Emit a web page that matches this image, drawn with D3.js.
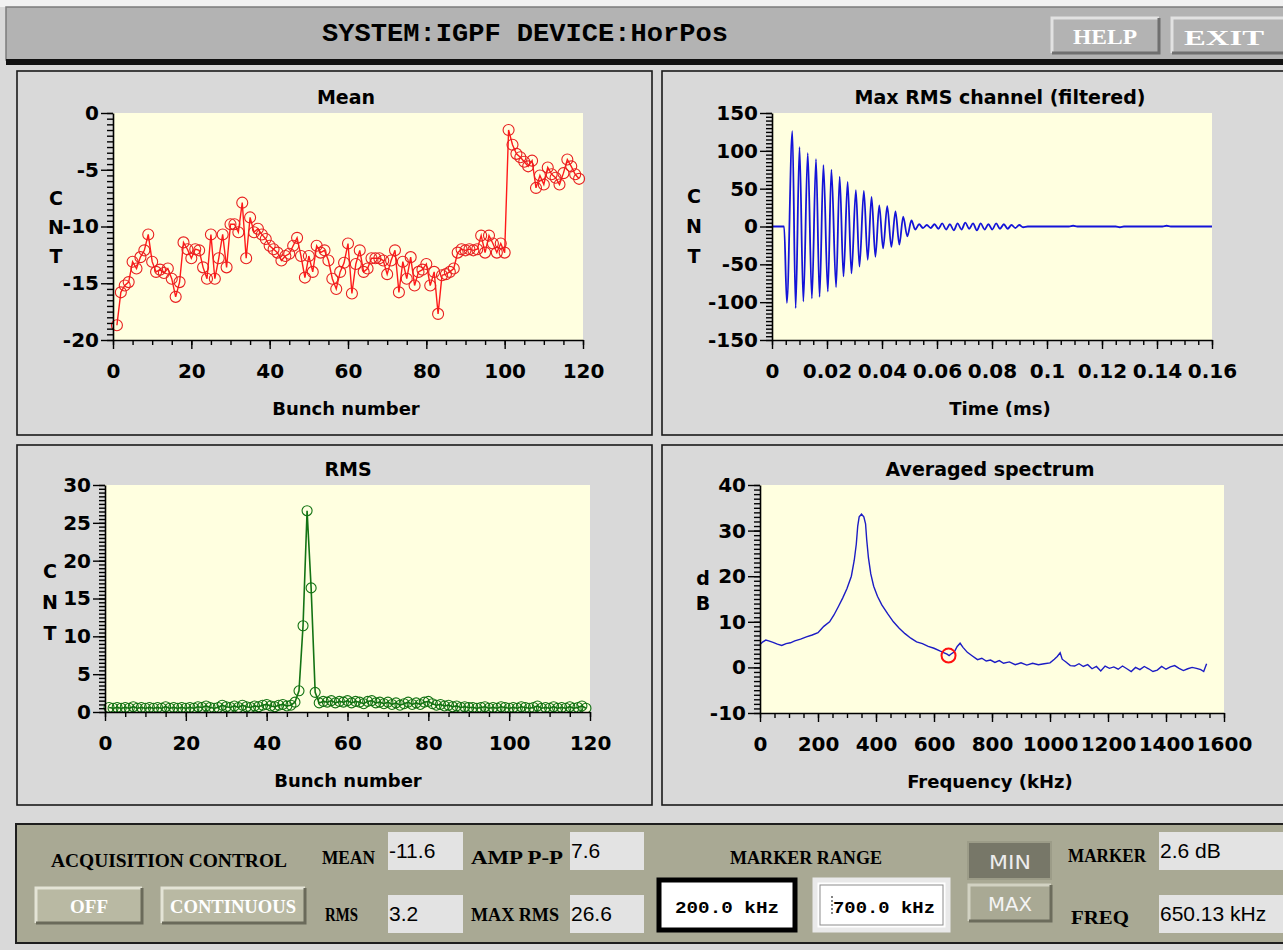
<!DOCTYPE html>
<html>
<head>
<meta charset="utf-8">
<script src="https://cdnjs.cloudflare.com/ajax/libs/d3/7.8.5/d3.min.js"></script>
<style>
  body { margin: 0; background: #d9d9d9; overflow: hidden; }
  svg text { font-family: "DejaVu Sans", sans-serif; }
  .axis path.domain { stroke: #000; stroke-width: 1.6; }
  .axis line { stroke: #000; stroke-width: 1.4; }
  .axis text { font-family: "DejaVu Sans", sans-serif; font-weight: bold; font-size: 20px; fill: #000; }
  .ttl { font-weight: bold; font-size: 19px; fill: #000; }
  .lbl { font-family: "Liberation Serif", serif; font-weight: bold; fill: #000; }
  .val { font-family: "Liberation Sans", sans-serif; fill: #000; }
</style>
</head>
<body>
<svg id="screen" width="1283" height="950"></svg>
<script>
(function(){

    // ---- values ----
    var bunches = d3.range(1, 120);

    var meanValues = [-18.7,-15.8,-15.2,-14.9,-13.1,-13.7,-12.7,-12.1,-10.7,-13.1,
        -14.0,-13.8,-14.1,-13.7,-14.6,-16.2,-14.9,-11.4,-12.0,-12.8,
        -12.0,-12.1,-13.6,-14.6,-10.7,-14.6,-12.8,-10.7,-13.6,-9.8,
        -9.8,-10.5,-7.9,-12.8,-9.2,-10.5,-10.2,-10.7,-11.1,-11.7,
        -12.0,-12.3,-13.0,-12.6,-12.4,-11.7,-11.0,-12.6,-14.5,-12.6,
        -14.0,-11.7,-12.3,-12.1,-13.0,-14.6,-15.5,-14.0,-13.2,-11.5,
        -15.9,-13.3,-12.1,-14.0,-13.7,-12.8,-12.8,-12.8,-13.0,-14.2,
        -13.0,-12.1,-15.8,-13.1,-14.6,-12.7,-15.2,-14.0,-13.8,-13.3,
        -15.2,-14.0,-17.7,-14.3,-14.2,-14.0,-13.7,-12.3,-12.0,-12.1,
        -12.0,-12.1,-12.0,-10.8,-12.3,-10.8,-11.5,-12.3,-11.5,-12.3,
        -1.5,-2.8,-3.6,-3.9,-4.3,-4.7,-4.2,-6.6,-5.5,-6.3,
        -4.8,-5.4,-5.7,-6.3,-5.3,-4.1,-4.7,-5.4,-5.8];

    var rmsValues = [0.6,0.5,0.6,0.5,0.6,0.5,0.7,0.5,0.6,0.5,0.6,0.5,0.6,0.5,0.7,0.5,0.6,0.5,0.6,0.5,
        0.6,0.5,0.7,0.6,0.8,0.6,0.5,0.6,0.9,0.7,0.6,0.8,0.6,0.9,0.7,0.6,0.8,0.7,0.9,1.0,
        0.8,0.7,0.9,1.0,0.8,0.9,1.3,2.8,11.4,26.6,16.4,2.6,
        1.2,1.4,1.3,1.5,1.2,1.4,1.3,1.5,1.2,1.4,1.3,1.1,1.4,1.5,1.2,1.3,1.1,1.3,
        1.0,1.2,0.9,1.1,1.3,1.0,1.2,1.0,1.3,1.4,1.1,0.9,1.0,0.8,0.9,0.7,0.8,0.6,0.7,0.6,
        0.6,0.5,0.6,0.7,0.5,0.6,0.5,0.7,0.6,0.5,0.6,0.5,0.7,0.6,0.5,0.6,0.8,0.5,0.6,0.5,
        0.7,0.5,0.6,0.5,0.7,0.5,0.6,0.8,0.5];

    // max rms channel: turning points of the filtered signal
    var chanTime = [0,0.0044,0.0054,0.0074,0.0086,0.0100,0.0114,0.0130,0.0145,0.0160,
        0.0173,0.0187,0.0203,0.0216,0.0233,0.0246,0.0260,0.0275,0.0289,0.0305,
        0.0318,0.0334,0.0348,0.0362,0.0376,0.0390,0.0404,0.0419,0.0434,0.0449,
        0.0463,0.0477,0.0492,0.0507,0.0521,0.0535,0.0549,0.0563,0.0577,0.0591,
        0.0605,0.0619,0.0633,0.0647,0.0661,0.0675,0.0689,0.0703,0.0717,0.0731,
        0.0745,0.0759,0.0773,0.0787,0.0801,0.0815,0.0829,0.0843,0.0857,0.0871,
        0.0885,0.0899,0.0913,0.0930,0.1080,0.1095,0.1110,0.1250,0.1265,0.1280,
        0.1420,0.1435,0.1450,0.1600];
    var chanValue = [0,0,-101,126,-108,105,-99,97,-95,89,
        -93,81,-86,75,-80,66,-66,59,-62,48,
        -53,47,-44,39,-40,28,-29,27,-27,20,
        -24,13,-13,8,-4,3,-2,2,-2,3,
        -3,4,-4,3,-5,4,-4,5,-3,4,
        -5,4,-4,3,-4,4,-3,3,-3,2,
        -2,2,-1,0,0,1,0,0,-1,0,
        0,1,0,0];

    var specFreq = [0,10,20,30,45,60,75,90,105,120,140,160,180,200,210,220,240,255,270,285,
        300,315,325,332,337,342,350,358,364,368,374,382,392,405,420,440,460,480,500,520,
        540,560,580,600,620,635,645,652,660,670,680,690,700,715,730,750,765,780,795,810,
        825,840,860,880,900,920,940,960,980,1000,1015,1025,1035,1042,1055,1070,1085,1100,1115,1130,
        1145,1160,1175,1190,1205,1220,1235,1250,1265,1280,1295,1310,1325,1340,1355,1370,1385,1400,1415,1430,
        1445,1460,1475,1490,1505,1520,1530,1540];
    var specDb = [5.0,5.6,6.0,5.8,5.5,5.1,4.8,5.2,5.4,5.8,6.2,6.7,7.1,7.6,8.3,9.0,10.0,11.5,13.3,15.2,
        17.3,20.0,23.5,27.0,31.0,33.0,33.6,33.0,31.5,28.0,24.0,20.5,17.8,15.6,13.7,11.8,10.0,8.6,7.4,6.4,
        5.6,5.2,4.6,4.2,3.6,3.2,2.9,2.6,3.0,3.4,4.6,5.3,4.4,3.3,2.6,1.7,2.0,1.4,1.6,1.1,
        1.5,0.9,1.2,0.6,1.0,0.5,0.9,0.6,0.8,1.0,1.8,2.4,3.2,1.8,1.2,0.4,0.3,0.8,0.2,0.6,
        -0.3,0.2,-0.8,0.3,-0.2,0.1,-0.4,0.3,-0.3,-0.9,0.0,-0.5,0.2,-0.3,-0.9,-0.6,0.2,-0.4,0.1,0.4,
        -0.2,-0.7,-0.3,0.0,-0.2,-0.5,-0.9,0.8];

    var markerFreq = 650.13;
    var markerDb = 2.6;

    var bunchTicks = [0, 20, 40, 60, 80, 100, 120];
    var meanTicks = [0, -5, -10, -15, -20];
    var rmsTicks = [0, 5, 10, 15, 20, 25, 30];
    var timeTicks = [0, 0.02, 0.04, 0.06, 0.08, 0.1, 0.12, 0.14, 0.16];
    var cntTicks = [150, 100, 50, 0, -50, -100, -150];
    var freqTicks = [0, 200, 400, 600, 800, 1000, 1200, 1400, 1600];
    var dbTicks = [40, 30, 20, 10, 0, -10];

    var svg = d3.select('#screen');
    var plain = function(d){ return String(d); };

    // ---- one plot with its axes ----
    var makePlot = function(cfg) {
        var x = d3.scaleLinear().domain(cfg.xDomain).range([cfg.left, cfg.right]);
        var y = d3.scaleLinear().domain(cfg.yDomain).range([cfg.bottom, cfg.top]);
        var g = svg.append('g');

        g.append('rect')
            .attr('x', cfg.left).attr('y', cfg.top)
            .attr('width', cfg.right - cfg.left).attr('height', cfg.bottom - cfg.top)
            .attr('fill', '#ffffe0');

        g.append('clipPath').attr('id', cfg.id + '-clip')
            .append('rect')
            .attr('x', cfg.left - 8).attr('y', cfg.top - 8)
            .attr('width', cfg.right - cfg.left + 16).attr('height', cfg.bottom - cfg.top + 8);

        var data = g.append('g').attr('clip-path', 'url(#' + cfg.id + '-clip)');

        // minor ticks first
        g.append('g').attr('class', 'axis')
            .attr('transform', 'translate(0,' + cfg.bottom + ')')
            .call(d3.axisBottom(x).tickValues(cfg.xMinor).tickSize(5).tickSizeOuter(0).tickFormat(''))
            .call(function(a){ a.select('.domain').remove(); });
        g.append('g').attr('class', 'axis')
            .attr('transform', 'translate(' + cfg.left + ',0)')
            .call(d3.axisLeft(y).tickValues(cfg.yMinor).tickSize(6).tickSizeOuter(0).tickFormat(''))
            .call(function(a){ a.select('.domain').remove(); });

        g.append('g').attr('class', 'axis')
            .attr('transform', 'translate(0,' + cfg.bottom + ')')
            .call(d3.axisBottom(x).tickValues(cfg.xTicks).tickSize(9).tickSizeOuter(0)
                .tickPadding(15).tickFormat(cfg.xFormat || plain));
        g.append('g').attr('class', 'axis')
            .attr('transform', 'translate(' + cfg.left + ',0)')
            .call(d3.axisLeft(y).tickValues(cfg.yTicks).tickSize(12).tickSizeOuter(0)
                .tickPadding(2).tickFormat(plain));

        g.append('text').attr('class', 'ttl')
            .attr('x', cfg.titleX).attr('y', cfg.top - 9)
            .attr('text-anchor', 'middle').style('font-size', '19px')
            .text(cfg.title);
        g.append('text').attr('class', 'ttl')
            .attr('x', cfg.titleX).attr('y', cfg.bottom + 75)
            .attr('text-anchor', 'middle').style('font-size', '18px')
            .text(cfg.xLabel);

        g.selectAll('text.yl')
            .data(cfg.yLabel)
            .enter()
            .append('text')
            .attr('class', 'ttl yl')
            .attr('x', cfg.yLabelX)
            .attr('y', function(d, i){ return cfg.yLabelY + i * cfg.yLabelStep; })
            .attr('text-anchor', 'middle')
            .text(function(d){ return d; });

        return {x: x, y: y, data: data};
    };

    // ---- screen frame ----
    svg.append('rect').attr('width', 1283).attr('height', 950).attr('fill', '#d9d9d9');
    svg.append('rect').attr('width', 1283).attr('height', 7).attr('fill', '#f2f2f2');
    svg.append('rect').attr('x', 6).attr('y', 7).attr('width', 1280).attr('height', 53)
        .attr('fill', '#b3b3b3').attr('stroke', '#7c7c7c').attr('stroke-width', 1.5);
    svg.append('rect').attr('x', 6).attr('y', 59).attr('width', 1280).attr('height', 6).attr('fill', '#111');

    svg.append('text').attr('x', 525).attr('y', 41).attr('text-anchor', 'middle')
        .attr('textLength', 406).attr('lengthAdjust', 'spacingAndGlyphs')
        .style('font-family', '"Liberation Mono", monospace').style('font-weight', 'bold')
        .style('font-size', '26px').text('SYSTEM:IGPF DEVICE:HorPos');

    var bevel = function(x, y, w, h, fill, light, dark, pressed) {
        var b = svg.append('g');
        b.append('rect').attr('x', x).attr('y', y).attr('width', w).attr('height', h).attr('fill', fill);
        b.append('path')
            .attr('d', 'M' + x + ',' + (y + h) + 'V' + y + 'H' + (x + w))
            .attr('fill', 'none').attr('stroke', pressed ? dark : light).attr('stroke-width', 3);
        b.append('path')
            .attr('d', 'M' + x + ',' + (y + h) + 'H' + (x + w) + 'V' + y)
            .attr('fill', 'none').attr('stroke', pressed ? light : dark).attr('stroke-width', 3);
        return b;
    };

    var btnText = function(cx, y, txt, w, family, size, weight, color) {
        svg.append('text').attr('x', cx).attr('y', y).attr('text-anchor', 'middle')
            .attr('textLength', w).attr('lengthAdjust', 'spacingAndGlyphs')
            .style('font-family', family).style('font-weight', weight || 'bold')
            .style('font-size', size + 'px').attr('fill', color || '#fff').text(txt);
    };

    bevel(1052, 18, 107, 35, '#b3b3b3', '#e2e2e2', '#6f6f6f');
    btnText(1105, 44, 'HELP', 64, '"Liberation Serif", serif', 21);
    bevel(1172, 18, 115, 35, '#b3b3b3', '#e2e2e2', '#6f6f6f');
    btnText(1224, 45, 'EXIT', 80, '"Liberation Serif", serif', 22);

    var panels = [[17, 71, 635, 364], [662, 71, 630, 364], [17, 445, 635, 360], [662, 445, 630, 360]];
    svg.selectAll('rect.panel')
        .data(panels)
        .enter()
        .append('rect')
        .attr('class', 'panel')
        .attr('x', function(d){ return d[0]; }).attr('y', function(d){ return d[1]; })
        .attr('width', function(d){ return d[2]; }).attr('height', function(d){ return d[3]; })
        .attr('fill', '#d9d9d9').attr('stroke', '#1a1a1a').attr('stroke-width', 1.6);

    // ---- Mean ----
    var mean = makePlot({
        id: 'mean', left: 113, right: 583, top: 113, bottom: 340,
        xDomain: [0, 120], yDomain: [-20, 0],
        xTicks: bunchTicks, xMinor: d3.range(0, 121, 5),
        yTicks: meanTicks, yMinor: d3.range(-20, 0.01, 0.5),
        title: 'Mean', titleX: 346, xLabel: 'Bunch number',
        yLabel: ['C', 'N', 'T'], yLabelX: 56, yLabelY: 205, yLabelStep: 29
    });
    var meanPts = bunches.map(function(b, i){ return {b: b, v: meanValues[i]}; });
    mean.data.append('path').datum(meanPts)
        .attr('fill', 'none').attr('stroke', '#ff1a1a').attr('stroke-width', 1.4)
        .attr('d', d3.line().x(function(d){ return mean.x(d.b); }).y(function(d){ return mean.y(d.v); }));
    mean.data.selectAll('circle').data(meanPts).enter().append('circle')
        .attr('cx', function(d){ return mean.x(d.b); })
        .attr('cy', function(d){ return mean.y(d.v); })
        .attr('r', 5.5).attr('fill', 'none').attr('stroke', '#e82020').attr('stroke-width', 1.1);

    // ---- Max RMS channel ----
    var chan = makePlot({
        id: 'chan', left: 772, right: 1212, top: 113, bottom: 340,
        xDomain: [0, 0.16], yDomain: [-150, 150],
        xTicks: timeTicks, xMinor: d3.range(0, 33).map(function(i){ return i * 0.005; }),
        xFormat: function(d){ return String(+d.toFixed(2)); },
        yTicks: cntTicks, yMinor: d3.range(-150, 151, 5),
        title: 'Max RMS channel (filtered)', titleX: 1000, xLabel: 'Time (ms)',
        yLabel: ['C', 'N', 'T'], yLabelX: 694, yLabelY: 203, yLabelStep: 30
    });
    var chanPts = chanTime.map(function(t, i){ return {t: t, v: chanValue[i]}; });
    chan.data.append('path').datum(chanPts)
        .attr('fill', 'none').attr('stroke', '#1414d8').attr('stroke-width', 1.8)
        .attr('d', d3.line().curve(d3.curveMonotoneX)
            .x(function(d){ return chan.x(d.t); }).y(function(d){ return chan.y(d.v); }));

    // ---- RMS ----
    var rms = makePlot({
        id: 'rms', left: 105, right: 590, top: 485, bottom: 712,
        xDomain: [0, 120], yDomain: [0, 30],
        xTicks: bunchTicks, xMinor: d3.range(0, 121, 5),
        yTicks: rmsTicks, yMinor: d3.range(0, 30.01, 0.5),
        title: 'RMS', titleX: 348, xLabel: 'Bunch number',
        yLabel: ['C', 'N', 'T'], yLabelX: 50, yLabelY: 578, yLabelStep: 31
    });
    var rmsPts = bunches.map(function(b, i){ return {b: b, v: rmsValues[i]}; });
    rms.data.append('path').datum(rmsPts)
        .attr('fill', 'none').attr('stroke', '#137313').attr('stroke-width', 1.6)
        .attr('d', d3.line().x(function(d){ return rms.x(d.b); }).y(function(d){ return rms.y(d.v); }));
    rms.data.selectAll('circle').data(rmsPts).enter().append('circle')
        .attr('cx', function(d){ return rms.x(d.b); })
        .attr('cy', function(d){ return rms.y(d.v); })
        .attr('r', 5).attr('fill', 'none').attr('stroke', '#137313').attr('stroke-width', 1.1);

    // ---- Averaged spectrum ----
    var spec = makePlot({
        id: 'spec', left: 760, right: 1224, top: 485, bottom: 713,
        xDomain: [0, 1600], yDomain: [-10, 40],
        xTicks: freqTicks, xMinor: d3.range(0, 1601, 50),
        yTicks: dbTicks, yMinor: d3.range(-10, 40.01, 1),
        title: 'Averaged spectrum', titleX: 990, xLabel: 'Frequency (kHz)',
        yLabel: ['d', 'B'], yLabelX: 703, yLabelY: 585, yLabelStep: 25
    });
    var specPts = specFreq.map(function(f, i){ return {f: f, v: specDb[i]}; });
    spec.data.append('path').datum(specPts)
        .attr('fill', 'none').attr('stroke', '#1c1cc4').attr('stroke-width', 1.4)
        .attr('d', d3.line().x(function(d){ return spec.x(d.f); }).y(function(d){ return spec.y(d.v); }));
    spec.data.append('circle')
        .attr('cx', spec.x(markerFreq)).attr('cy', spec.y(markerDb))
        .attr('r', 7).attr('fill', 'none').attr('stroke', '#ff1010').attr('stroke-width', 2);

    // ---- control panel ----
    svg.append('rect').attr('x', 16).attr('y', 824).attr('width', 1275).attr('height', 119)
        .attr('fill', '#a9a994').attr('stroke', '#1e1e1e').attr('stroke-width', 2);

    var lbl = function(x, y, txt, w, size, anchor) {
        svg.append('text').attr('class', 'lbl')
            .attr('x', x).attr('y', y).attr('text-anchor', anchor || 'start')
            .attr('textLength', w).attr('lengthAdjust', 'spacingAndGlyphs')
            .style('font-size', (size || 18) + 'px').text(txt);
    };
    var valBox = function(x, y, w, h, txt) {
        svg.append('rect').attr('x', x).attr('y', y).attr('width', w).attr('height', h).attr('fill', '#e3e3e3');
        svg.append('text').attr('class', 'val').attr('x', x + 1).attr('y', y + 26)
            .style('font-size', '21px').text(txt);
    };

    lbl(51, 867, 'ACQUISITION CONTROL', 236, 19);
    bevel(36, 888, 106, 35, '#b9b9a3', '#e4e4d6', '#6a6a5a');
    btnText(89, 913, 'OFF', 38, '"Liberation Serif", serif', 19);
    bevel(162, 888, 143, 35, '#b9b9a3', '#e4e4d6', '#6a6a5a');
    btnText(233, 913, 'CONTINUOUS', 126, '"Liberation Serif", serif', 19);

    lbl(322, 864, 'MEAN', 53);
    valBox(388, 832, 75, 38, '-11.6');
    lbl(471, 864, 'AMP P-P', 92);
    valBox(570, 832, 74, 38, '7.6');
    lbl(325, 921, 'RMS', 33);
    valBox(388, 895, 75, 38, '3.2');
    lbl(471, 921, 'MAX RMS', 88);
    valBox(570, 895, 74, 38, '26.6');

    lbl(730, 864, 'MARKER RANGE', 152);
    svg.append('rect').attr('x', 659).attr('y', 880).attr('width', 136).attr('height', 50)
        .attr('fill', '#fff').attr('stroke', '#000').attr('stroke-width', 5);
    svg.append('rect').attr('x', 815).attr('y', 880).attr('width', 133).attr('height', 50)
        .attr('fill', '#fff').attr('stroke', '#e9e9e9').attr('stroke-width', 5);
    svg.append('rect').attr('x', 820).attr('y', 885).attr('width', 123).attr('height', 40)
        .attr('fill', 'none').attr('stroke', '#8c8c8c').attr('stroke-width', 1);
    svg.append('text').attr('x', 727).attr('y', 913).attr('text-anchor', 'middle')
        .attr('textLength', 104).attr('lengthAdjust', 'spacingAndGlyphs')
        .style('font-family', '"Liberation Mono", monospace').style('font-weight', 'bold')
        .style('font-size', '17px').text('200.0 kHz');
    svg.append('text').attr('x', 884).attr('y', 913).attr('text-anchor', 'middle')
        .attr('textLength', 102).attr('lengthAdjust', 'spacingAndGlyphs')
        .style('font-family', '"Liberation Mono", monospace').style('font-weight', 'bold')
        .style('font-size', '17px').text('700.0 kHz');
    svg.append('line').attr('x1', 832).attr('x2', 832).attr('y1', 896).attr('y2', 916)
        .attr('stroke', '#333').attr('stroke-width', 1.2).attr('stroke-dasharray', '2,2');

    svg.append('rect').attr('x', 968).attr('y', 842).attr('width', 83).attr('height', 37).attr('fill', '#777768');
    svg.append('rect').attr('x', 968).attr('y', 842).attr('width', 83).attr('height', 37)
        .attr('fill', 'none').attr('stroke', '#9c9c88').attr('stroke-width', 2);
    btnText(1010, 869, 'MIN', 42, '"DejaVu Sans", sans-serif', 19, 'normal', '#ececec');
    bevel(969, 885, 82, 36, '#a9a994', '#d2d2c2', '#6c6c5c');
    btnText(1010, 911, 'MAX', 44, '"DejaVu Sans", sans-serif', 19, 'normal', '#f4f4f4');

    lbl(1068, 862, 'MARKER', 78);
    valBox(1159, 832, 130, 38, '2.6 dB');
    lbl(1071, 924, 'FREQ', 58);
    valBox(1159, 895, 130, 38, '650.13 kHz');

})();
</script>
</body>
</html>
